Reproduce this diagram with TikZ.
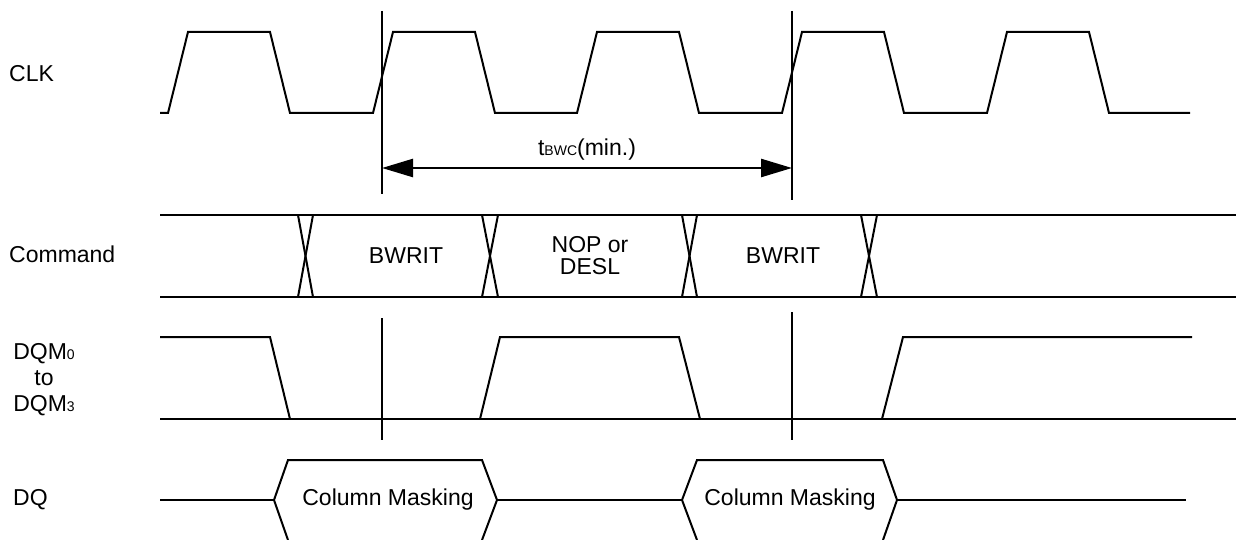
\documentclass[tikz,border=0pt]{standalone}
\usepackage{fontspec}
\setmainfont{Liberation Sans}
\usetikzlibrary{arrows.meta}
\begin{document}
\begin{tikzpicture}[x=1pt,y=-1pt,
  sig/.style={line width=2pt,line join=miter},
  refline/.style={line width=2pt},
  lbl/.style={font=\fontsize{23}{27}\selectfont,inner sep=0pt}]
\useasboundingbox (0,0) rectangle (1236,540);
% labels
\node[lbl,anchor=west] (clk) at (9,74) {CLK};
\node[lbl,anchor=west] (cmd) at (9,254) {Command};
\node[lbl,align=center] (dqm) at (44,380) {DQM{\fontsize{14}{14}\selectfont 0}\\[-1pt]to\\[-1pt]DQM{\fontsize{14}{14}\selectfont 3}};
\node[lbl,anchor=west] (dq) at (13,500) {DQ};
% CLK
\draw[sig] (160,113)--(168,113)--(188,32)--(270,32)--(290,113)--(373,113)--(393,32)--(475,32)--(495,113)--(577,113)--(597,32)--(679,32)--(699,113)--(782,113)--(802,32)--(884,32)--(904,113)--(987,113)--(1007,32)--(1089,32)--(1109,113)--(1190,113);
% reference lines
\coordinate (a1) at (382,11); \coordinate (a2) at (382,194);
\coordinate (b1) at (792,11); \coordinate (b2) at (792,200);
\draw[refline] (a1)--(a2);
\draw[refline] (b1)--(b2);
\coordinate (l) at (382,168); \coordinate (r) at (792,168);
\draw[line width=2.5pt,{Triangle[length=31pt,width=18pt]}-{Triangle[length=31pt,width=18pt]}] (l)--(r);
\node[lbl] (tbwc) at (587,150) {t{\fontsize{14}{14}\selectfont BWC}(min.)};
% Command bus
\draw[sig] (160,215)--(1236,215);
\draw[sig] (160,297)--(1236,297);
\foreach \xa/\xb in {298/313,482/498,682/697,861/877}{
  \draw[sig] (\xa,215)--(\xb,297);
  \draw[sig] (\xa,297)--(\xb,215);
}
\node[lbl] (bw1) at (406,256) {BWRIT};
\node[lbl,align=center] (nop) at (590,256) {NOP or\\[-5pt]DESL};
\node[lbl] (bw2) at (783,256) {BWRIT};
% lower reference lines
\coordinate (c1) at (382,318); \coordinate (c2) at (382,440);
\coordinate (d1) at (792,312); \coordinate (d2) at (792,440);
\draw[refline] (c1)--(c2);
\draw[refline] (d1)--(d2);
% DQM
\draw[sig] (160,419)--(1236,419);
\draw[sig] (160,337)--(270,337)--(290,419);
\draw[sig] (480,419)--(500,337)--(679,337)--(700,419);
\draw[sig] (882,419)--(903,337)--(1192,337);
% DQ
\draw[sig] (160,500)--(274,500);
\draw[sig] (288,540)--(274,500)--(288,460)--(482,460)--(497,500)--(482,540);
\draw[sig] (497,500)--(682,500);
\draw[sig] (697,540)--(682,500)--(697,460)--(883,460)--(897,500)--(883,540);
\draw[sig] (897,500)--(1186,500);
\node[lbl] (cm1) at (388,500) {Column Masking};
\node[lbl] (cm2) at (790,500) {Column Masking};
\end{tikzpicture}
\end{document}
